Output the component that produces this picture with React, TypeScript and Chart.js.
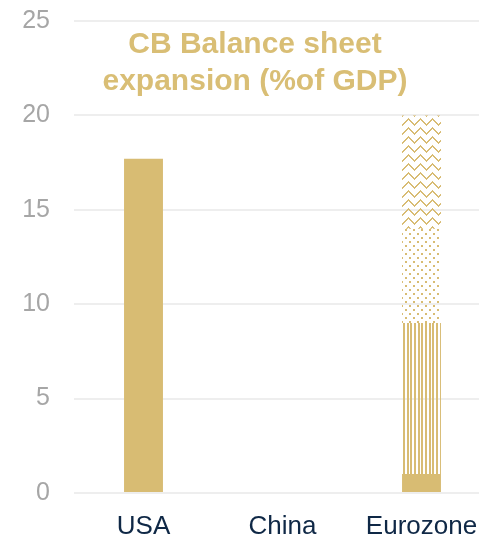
import React, { useEffect, useRef } from 'react';
import { Chart, registerables } from 'chart.js';

Chart.register(...registerables);

const categories = ['USA', 'China', 'Eurozone'];
const solidValues = [17.7, null, 1];
const stripeValues = [null, null, 8];
const dotValues = [null, null, 5];
const zigzagValues = [null, null, 6];
const titleLines = ['CB Balance sheet', 'expansion (%of GDP)'];
const yMin = 0;
const yMax = 25;
const yStep = 5;

const GOLD = '#D8BC73';
const FONT = "'Liberation Sans', Arial, sans-serif";

function makeTile(w: number, h: number, draw: (c: CanvasRenderingContext2D) => void) {
  const cv = document.createElement('canvas');
  cv.width = w;
  cv.height = h;
  const c = cv.getContext('2d')!;
  draw(c);
  return c.createPattern(cv, 'repeat')!;
}

function stripePattern() {
  // 11px tile with three gold stripes
  const cols = 'GGWGGWWGGWW';
  return makeTile(cols.length, 4, (c) => {
    c.fillStyle = GOLD;
    for (let i = 0; i < cols.length; i++) {
      if (cols[i] === 'G') c.fillRect(i, 0, 1, 4);
    }
  });
}

function dotPattern() {
  return makeTile(8, 8, (c) => {
    c.fillStyle = GOLD;
    c.fillRect(1, 1, 2, 2);
    c.fillRect(5, 5, 2, 2);
  });
}

function zigzagPattern() {
  return makeTile(12, 9, (c) => {
    c.fillStyle = GOLD;
    for (let x = 0; x < 12; x++) {
      const y = 1 + (x <= 6 ? x : 12 - x);
      c.fillRect(x, y, 1, 2);
    }
  });
}

const titlePlugin = {
  id: 'cbTitle',
  afterDatasetsDraw(chart: any) {
    const { ctx, chartArea } = chart;
    ctx.save();
    ctx.fillStyle = '#D9BE75';
    ctx.font = `bold 30px ${FONT}`;
    ctx.textAlign = 'center';
    ctx.textBaseline = 'alphabetic';
    const cx = chartArea.left + 181;
    ctx.fillText(titleLines[0], cx, chartArea.top + 32);
    ctx.fillText(titleLines[1], cx, chartArea.top + 69);
    ctx.restore();
  },
};

export default function App() {
  const ref = useRef<HTMLCanvasElement>(null);

  useEffect(() => {
    if (!ref.current) return;
    const chart = new Chart(ref.current, {
      type: 'bar',
      data: {
        labels: categories,
        datasets: [
          { data: solidValues as any, backgroundColor: GOLD, borderWidth: 0 },
          { data: stripeValues as any, backgroundColor: stripePattern() as any, borderWidth: 0 },
          { data: dotValues as any, backgroundColor: dotPattern() as any, borderWidth: 0 },
          { data: zigzagValues as any, backgroundColor: zigzagPattern() as any, borderWidth: 0 },
        ],
      },
      options: {
        animation: false,
        responsive: false,
        maintainAspectRatio: false,
        layout: { padding: { top: 21, left: 0, right: 0, bottom: 0 } },
        datasets: { bar: { categoryPercentage: 1, barPercentage: 0.28 } },
        plugins: { legend: { display: false }, tooltip: { enabled: false }, title: { display: false } },
        scales: {
          x: {
            stacked: true,
            grid: { display: false },
            border: { display: false },
            ticks: {
              color: '#0F2846',
              font: { family: FONT, size: 26 },
              padding: 10,
              maxRotation: 0,
              autoSkip: false,
            },
            afterFit(s: any) {
              s.height = 45;
            },
          },
          y: {
            stacked: true,
            min: yMin,
            max: yMax,
            ticks: {
              stepSize: yStep,
              color: '#A6A6A6',
              font: { family: FONT, size: 25 },
              padding: 24,
            },
            grid: { color: '#EEEEEE', lineWidth: 2, drawTicks: false },
            border: { display: false },
            afterFit(s: any) {
              s.width = 74;
              s.paddingTop = 0;
              s.paddingBottom = 0;
            },
          },
        },
      },
      plugins: [titlePlugin],
    });
    return () => chart.destroy();
  }, []);

  return (
    <div style={{ position: 'fixed', left: 0, top: 0, width: 479, height: 538, overflow: 'hidden', background: '#fff' }}>
      <canvas ref={ref} width={491} height={538} style={{ display: 'block', width: 491, height: 538 }} />
    </div>
  );
}
